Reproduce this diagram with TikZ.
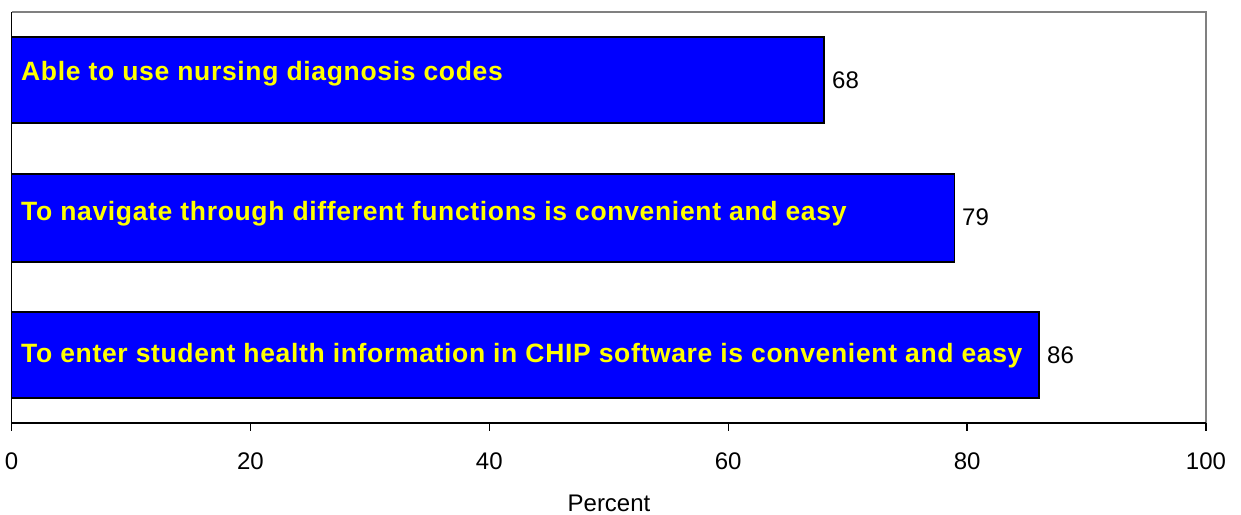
\documentclass[tikz,border=0pt]{standalone}
\usepackage{fontspec}
\setmainfont{Liberation Sans}
\usepackage{tikz}
\usetikzlibrary{positioning}
\definecolor{barblue}{RGB}{0,0,255}
\definecolor{labelyellow}{RGB}{255,255,0}
\definecolor{framegray}{RGB}{128,128,128}

\begin{document}
\begin{tikzpicture}[x=1pt,y=1pt]
\tikzstyle{every node}+=[inner sep=0pt]
\tikzstyle{bar}=[fill=barblue,draw=black,line width=1.6pt]
\tikzstyle{barlabel}=[anchor=west,text=labelyellow,font=\fontsize{26.5}{29}\selectfont\bfseries\addfontfeature{LetterSpace=2.5}]
\tikzstyle{value}=[anchor=west,font=\fontsize{24}{28}\selectfont]
\tikzstyle{ticklabel}=[font=\fontsize{24}{28}\selectfont]
\useasboundingbox (0,0) rectangle (1241,-514);
% frame
\draw [framegray,line width=1.4pt] (11.5,-12) -- (1206,-12) -- (1206,-423);
\draw [black,line width=1.4pt] (11.5,-423) -- (11.5,-12);
% bars
\draw [bar] (11.5,-37) rectangle (823.8,-123);
\draw (21,-73.5) node [barlabel] {Able to use nursing diagnosis codes};
\draw (832,-80) node [value] {68};
\draw [bar] (11.5,-174) rectangle (954.5,-262);
\draw (21,-214) node [barlabel] {To navigate through different functions is convenient and easy};
\draw (962,-217) node [value] {79};
\draw [bar] (11.5,-312) rectangle (1038.8,-398);
\draw (21,-355.5) node [barlabel] {To enter student health information in CHIP software is convenient and easy};
\draw (1047,-355) node [value] {86};
% axis
\draw [black,line width=1.4pt] (11.5,-423) -- (1206,-423);
\draw [black,line width=1.4pt] (11.5,-423) -- (11.5,-431);
\draw (11.5,-461) node [ticklabel] {0};
\draw [black,line width=1.4pt] (250.4,-423) -- (250.4,-431);
\draw (250.4,-461) node [ticklabel] {20};
\draw [black,line width=1.4pt] (489.3,-423) -- (489.3,-431);
\draw (489.3,-461) node [ticklabel] {40};
\draw [black,line width=1.4pt] (728.2,-423) -- (728.2,-431);
\draw (728.2,-461) node [ticklabel] {60};
\draw [black,line width=1.4pt] (967.1,-423) -- (967.1,-431);
\draw (967.1,-461) node [ticklabel] {80};
\draw [black,line width=1.4pt] (1206,-423) -- (1206,-431);
\draw (1206,-461) node [ticklabel] {100};
\draw (609,-503) node [ticklabel] {Percent};
\end{tikzpicture}
\end{document}
